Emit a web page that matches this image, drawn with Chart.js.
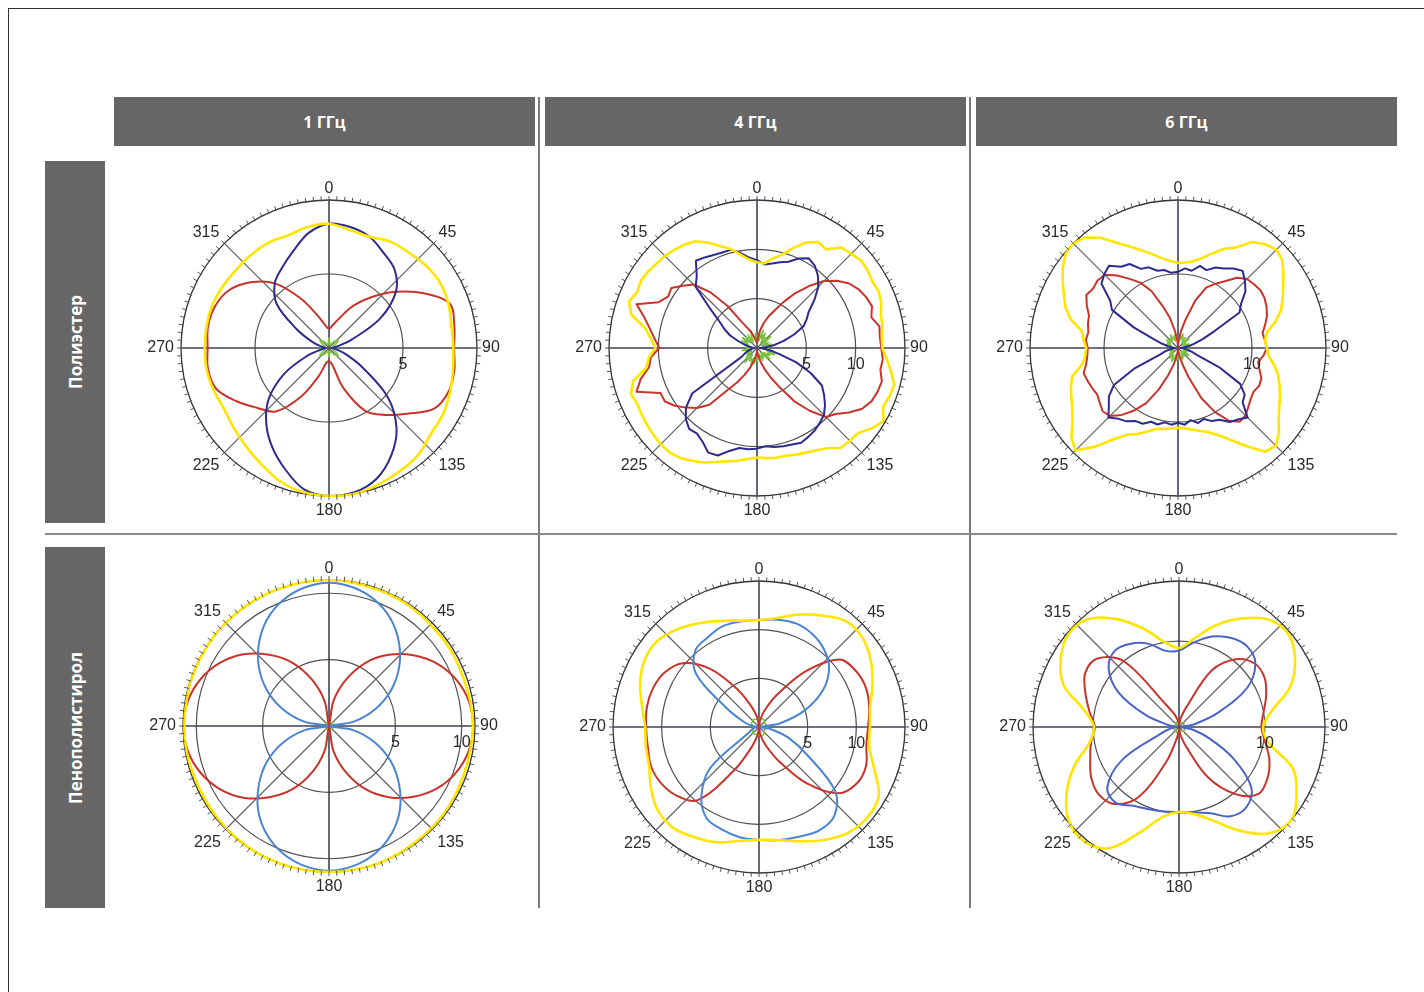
<!DOCTYPE html>
<html lang="ru">
<head>
<meta charset="utf-8">
<title>Диаграммы направленности</title>
<script src="https://cdn.jsdelivr.net/npm/chart.js@4.4.0/dist/chart.umd.min.js"></script>
<style>
  html, body { margin: 0; padding: 0; background: #fff; }
  body { width: 1424px; height: 992px; position: relative; overflow: hidden; font-family: "Open Sans", "DejaVu Sans", sans-serif; }
  .frame { position: absolute; left: 8px; top: 8px; width: 1430px; height: 1000px; border-left: 1px solid #333; border-top: 1px solid #333; }
  .head { position: absolute; top: 97px; height: 49px; width: 421px; background: #666667; color: #fff; font-weight: 700; font-size: 16px;
          display: flex; align-items: center; justify-content: center; }
  .side { position: absolute; left: 45px; width: 60px; background: #666667; }
  .side span { position: absolute; left: 50%; top: 50%; transform: translate(-50%, -50%) rotate(-90deg); white-space: nowrap;
               color: #fff; font-weight: 700; font-size: 17px; }
  .vline { position: absolute; top: 97px; height: 811px; width: 2px; background: #7a7a7a; }
  .hline { position: absolute; left: 45px; width: 1352px; top: 533px; height: 2px; background: #8a8a8a; }
  canvas { position: absolute; }
</style>
</head>
<body>
<div class="frame"></div>
<div class="head" style="left:114px">1 ГГц</div>
<div class="head" style="left:545px">4 ГГц</div>
<div class="head" style="left:976px">6 ГГц</div>
<div class="side" style="top:161px;height:362px"><span>Полиэстер</span></div>
<div class="side" style="top:547px;height:361px"><span>Пенополистирол</span></div>
<div class="vline" style="left:538px"></div>
<div class="vline" style="left:969px"></div>
<div class="hline"></div>

<script>
// углы (градусы)
const deg10 = [0,10,20,30,40,50,60,70,80,90,100,110,120,130,140,150,160,170,
               180,190,200,210,220,230,240,250,260,270,280,290,300,310,320,330,340,350];
const deg5 = [0,5,10,15,20,25,30,35,40,45,50,55,60,65,70,75,80,85,90,95,100,105,110,115,
              120,125,130,135,140,145,150,155,160,165,170,175,180,185,190,195,200,205,210,215,
              220,225,230,235,240,245,250,255,260,265,270,275,280,285,290,295,300,305,310,315,
              320,325,330,335,340,345,350,355];
const angleTicks = [0,45,90,135,180,225,270,315];

// Полиэстер, 1 ГГц
const y11 = [8.4,8.1,8.0,8.3,8.4,8.6,8.7,8.6,8.4,8.4,8.5,8.7,8.9,9.0,9.4,9.6,9.8,10.0,
             10.0,9.9,9.6,9.1,8.7,8.4,8.2,8.3,8.4,8.4,8.4,8.4,8.3,8.2,8.2,8.2,8.1,8.3];
const b11 = [8.4,8.3,8.0,7.4,6.9,5.9,4.0,1.6,0.5,0.2,0.5,1.2,2.6,5.2,7.1,8.4,9.4,9.9,
             10.0,9.7,8.7,7.7,6.6,5.3,3.5,1.6,0.5,0.2,0.5,1.2,2.5,4.6,5.7,6.3,7.0,7.9];
const r11 = [1.3,1.6,2.2,3.3,4.5,5.9,7.4,8.7,8.6,8.45,8.6,8.6,8.2,6.9,5.9,4.9,2.9,1.1,
             0.9,1.0,2.0,3.8,5.6,6.3,7.2,8.1,8.3,8.2,8.3,8.2,7.8,6.9,5.7,3.9,2.4,1.6];
const g11 = [0.7,0.3,0.2,0.3,0.6,0.8,0.5,0.3,0.4,0.6,0.4,0.3,0.5,0.8,0.6,0.3,0.2,0.3,
             0.6,0.3,0.2,0.3,0.6,0.8,0.5,0.3,0.4,0.6,0.4,0.3,0.5,0.8,0.6,0.3,0.2,0.3];

// Полиэстер, 4 ГГц
const y12 = [8.7,8.6,9.2,9.8,10.8,11.8,12.4,12.2,13.3,13.5,13.8,13.7,
             13.5,13.6,13.4,13.0,12.9,12.7,12.7,13.2,13.8,14.4,14.3,14.1,
             14.8,14.2,13.4,13.3,13.2,12.4,12.0,11.7,11.5,11.3,11.3,11.2,
             11.1,11.3,11.6,11.9,12.3,12.8,13.2,13.6,13.8,13.8,13.7,13.6,
             13.5,13.4,13.6,13.0,11.4,11.0,10.3,10.8,11.5,13.2,13.8,13.4,
             13.6,13.5,13.3,13.2,13.0,12.8,12.5,11.8,11.0,10.4,9.6,9.0];
const b12 = [8.9,8.5,8.7,9.0,9.3,10.0,10.5,10.2,9.6,8.8,7.6,6.4,
             5.8,5.2,4.0,2.8,1.8,0.9,0.3,0.6,1.3,2.3,4.2,6.0,
             7.6,8.3,9.0,9.6,9.9,10.2,10.4,10.6,10.4,10.3,10.2,10.0,
             10.2,10.3,10.3,10.8,11.6,11.7,11.0,10.6,10.7,10.2,9.4,8.0,
             1.8,1.4,1.1,0.8,0.6,0.4,0.3,0.5,0.8,1.3,2.0,3.0,
             3.8,4.6,6.2,8.8,9.5,10.8,10.6,10.4,10.3,10.3,9.8,9.2];
const r12 = [0.5,1.0,1.8,2.6,3.4,4.2,5.4,6.8,8.2,9.6,10.6,11.4,
             11.9,12.2,12.4,12.0,12.6,12.5,12.6,12.8,12.7,13.1,13.0,12.8,
             12.3,11.4,10.4,9.9,8.3,6.6,4.6,3.3,2.3,1.5,0.9,0.5,
             0.3,0.6,1.0,1.5,2.2,3.0,4.0,5.2,7.5,8.6,9.4,10.2,
             10.8,10.8,13.0,12.2,11.1,10.8,9.9,10.4,11.0,11.8,13.0,11.0,
             10.4,10.6,9.8,9.1,7.4,5.2,3.0,2.2,1.7,1.2,0.9,0.6];
const g12 = [1.2,0.6,1.6,0.8,1.9,1.1,1.7,0.7,1.4,0.9,1.8,1.0,
             0.5,1.3,0.7,1.5,1.1,0.6,1.2,0.8,1.6,1.0,1.9,1.2,
             1.5,0.8,1.7,1.0,0.6,1.2,0.9,1.4,0.7,1.1,0.5,0.9,
             1.3,0.7,1.6,1.0,1.8,1.2,1.5,0.8,1.9,1.1,1.4,0.7,
             1.2,0.6,1.0,0.8,1.5,1.0,0.6,1.1,0.7,1.3,0.9,1.7,
             1.1,1.8,0.9,1.5,1.0,1.6,0.7,1.3,1.9,1.2,0.8,1.5];

// Полиэстер, 6 ГГц
const y13 = [11.5,11.6,11.9,12.6,13.6,14.8,15.7,17.5,18.3,18.8,18.4,17.4,
             16.4,15.6,14.8,13.6,12.2,11.8,12.0,12.3,13.2,14.0,14.6,15.2,
             15.8,16.6,17.8,18.7,18.3,16.2,14.4,13.0,12.1,11.6,11.2,10.9,
             10.8,10.9,11.1,11.3,12.0,12.8,13.5,15.0,17.4,19.6,18.8,17.4,
             16.5,15.9,15.4,14.8,13.2,12.6,12.4,12.8,13.2,15.0,16.2,17.0,
             18.0,19.0,19.8,20.0,19.5,18.2,16.4,15.1,14.0,13.1,12.3,11.8];
const b13 = [10.3,10.8,10.6,11.5,11.2,12.0,12.4,13.1,13.6,12.8,11.9,10.4,
             9.6,5.5,3.6,2.3,1.5,0.8,0.4,0.8,1.3,1.9,2.7,6.1,
             9.7,11.0,11.4,13.3,12.6,12.2,11.2,10.9,10.2,10.5,9.9,10.4,
             10.1,10.4,10.2,10.7,10.6,11.3,11.4,12.1,12.5,13.3,12.2,11.4,
             10.0,6.4,2.6,1.8,1.2,0.7,0.4,0.8,1.4,2.2,3.5,6.6,
             10.3,11.2,13.5,14.1,14.5,13.4,13.1,11.8,11.6,10.8,10.7,10.2];
const r13 = [0.3,1.0,2.3,4.0,6.8,9.0,10.0,11.0,12.4,13.2,13.4,13.6,
             13.5,13.2,12.8,12.2,11.6,11.8,12.0,11.6,11.0,11.4,12.0,12.1,
             11.8,12.0,12.4,12.9,13.0,12.0,10.0,7.5,4.2,2.2,1.0,0.4,
             0.2,0.5,1.2,2.4,4.0,6.2,8.6,10.3,11.8,13.0,13.3,12.9,
             12.6,12.8,13.0,13.2,12.6,12.3,12.2,12.5,12.3,12.6,12.8,13.6,
             14.3,14.0,14.2,14.0,12.8,11.4,10.2,8.5,6.0,4.2,2.3,1.0];
const g13 = [1.4,0.9,1.8,1.2,2.0,1.5,1.1,1.7,0.8,1.3,1.9,1.0,
             0.6,1.2,1.6,1.0,1.4,0.7,1.1,1.5,0.9,1.7,1.2,0.8,
             1.3,1.8,1.1,0.6,1.0,1.4,0.8,1.6,1.2,1.9,1.4,1.0,
             1.5,1.1,1.7,0.9,1.3,2.0,1.6,1.1,1.8,1.2,0.8,1.4,
             0.7,1.1,0.6,1.0,1.5,0.9,1.3,0.8,1.2,1.7,1.0,1.6,
             1.2,1.9,1.4,1.1,1.7,1.3,2.0,1.5,1.0,1.8,1.2,1.6];

// Пенополистирол, 1 ГГц
const y21 = [11.0,10.95,10.9,10.9,10.85,10.8,10.8,10.75,10.8,10.85,10.8,10.8,10.85,10.9,10.9,10.95,11.0,11.0,
             11.0,11.0,11.0,11.0,10.95,10.9,10.85,10.85,10.9,10.9,10.9,10.95,10.95,11.0,11.0,11.0,11.0,11.0];
const b21 = [10.8,10.6,10.1,9.3,8.2,6.9,5.4,3.7,1.9,0.1,1.9,3.7,5.4,6.9,8.3,9.4,10.2,10.7,
             10.9,10.7,10.2,9.4,8.3,6.9,5.4,3.7,1.9,0.1,1.9,3.7,5.4,6.9,8.2,9.3,10.1,10.6];
const r21 = [0.1,1.9,3.7,5.5,7.0,8.3,9.4,10.2,10.7,10.85,10.7,10.2,9.4,8.3,7.0,5.5,3.7,1.9,
             0.1,1.9,3.7,5.5,7.0,8.4,9.5,10.3,10.8,10.95,10.8,10.3,9.5,8.4,7.0,5.5,3.7,1.9];
const g21 = [0.3,0.25,0.2,0.25,0.3,0.35,0.3,0.25,0.2,0.25,0.3,0.35,0.3,0.25,0.2,0.25,0.3,0.35,
             0.3,0.25,0.2,0.25,0.3,0.35,0.3,0.25,0.2,0.25,0.3,0.35,0.3,0.25,0.2,0.25,0.3,0.35];

// Пенополистирол, 4 ГГц
const y22 = [11.0,11.4,12.3,13.2,14.1,14.0,13.3,12.4,11.6,11.4,11.5,12.6,14.2,14.5,14.2,13.4,12.5,11.8,
             11.6,11.9,12.6,13.1,13.6,13.5,12.8,12.0,11.8,11.7,12.2,13.0,13.6,13.7,13.1,12.3,11.6,11.1];
const b22 = [11.0,11.2,11.3,11.0,10.4,9.4,7.6,5.0,2.2,0.2,1.2,3.2,5.7,10.2,12.0,12.3,12.0,11.8,
             11.6,11.5,11.2,10.8,9.2,6.5,1.3,0.8,0.5,0.2,0.8,1.8,3.8,8.4,10.2,10.6,11.0,11.0];
const r22 = [0.0,0.8,2.0,4.0,7.5,10.8,11.5,11.7,11.5,11.2,11.2,11.7,11.6,10.6,7.5,4.0,2.0,0.8,
             0.0,0.8,2.2,5.2,9.8,11.0,11.6,11.8,11.6,11.6,11.7,11.6,11.2,10.2,7.8,4.5,2.2,0.9];
const g22 = [0.8,0.85,0.9,0.9,0.85,0.75,0.7,0.75,0.85,0.9,0.85,0.7,0.6,0.65,0.8,0.9,0.95,0.9,
             0.85,0.8,0.8,0.85,0.9,0.85,0.7,0.6,0.55,0.6,0.7,0.8,0.85,0.9,0.95,0.9,0.85,0.8];

// Пенополистирол, 6 ГГц
const y23 = [9.2,10.5,12.6,14.6,16.3,16.7,15.6,13.8,11.0,9.8,10.6,14.1,15.8,17.0,16.2,13.9,11.6,10.3,
             9.9,10.6,13.0,16.3,17.3,16.8,15.1,12.9,10.6,9.9,11.2,14.3,15.9,16.8,16.4,14.5,12.2,10.1];
const b23 = [8.9,10.0,11.2,12.0,12.3,11.6,9.2,4.8,1.8,0.3,1.5,3.6,7.3,11.0,12.2,12.0,10.7,10.1,
             9.9,10.0,10.2,10.6,11.5,10.9,7.6,2.2,1.0,0.3,1.2,4.2,8.2,10.7,11.6,11.2,10.3,9.0];
const r23 = [0.3,1.0,2.4,7.6,10.3,11.5,11.5,10.8,10.0,9.6,10.2,11.2,11.9,12.1,10.2,6.8,2.4,0.9,
             0.3,1.2,4.3,9.4,11.7,12.2,11.8,11.0,10.4,9.8,10.6,11.6,12.6,12.4,10.0,3.0,1.6,0.8];
const g23 = [0.6,0.55,0.5,0.55,0.65,0.7,0.65,0.55,0.5,0.55,0.6,0.7,0.75,0.7,0.6,0.5,0.45,0.5,
             0.6,0.65,0.7,0.65,0.55,0.5,0.55,0.65,0.7,0.7,0.6,0.5,0.45,0.5,0.55,0.6,0.65,0.6];

const YELLOW = '#ffe500', RED = '#c8342b', GREEN = '#7cc242';
const NAVY = '#2e2b8e', LIGHTBLUE = '#4a84d2', MIDBLUE = '#4a63c6';

// позиции и масштабы панелей
const panels = [
  { cx: 329, cy: 348, R: 148, max: 10, step: 5,  rings: [5],     labels: deg10, tension: 0.35, blue: NAVY,      sets: [y11, b11, r11, g11] },
  { cx: 757, cy: 348, R: 148, max: 15, step: 5,  rings: [5, 10], labels: deg5,  tension: 0,    blue: NAVY,      sets: [y12, b12, r12, g12] },
  { cx: 1178, cy: 348, R: 148, max: 20, step: 10, rings: [10],   labels: deg5,  tension: 0,    blue: NAVY,      sets: [y13, b13, r13, g13] },
  { cx: 329, cy: 726, R: 146, max: 11, step: 5,  rings: [5, 10], labels: deg10, tension: 0.35, blue: LIGHTBLUE, sets: [y21, b21, r21, g21] },
  { cx: 759, cy: 727, R: 146, max: 15, step: 5,  rings: [5, 10], labels: deg10, tension: 0.35, blue: LIGHTBLUE, sets: [y22, b22, r22, g22] },
  { cx: 1179, cy: 727, R: 146, max: 17, step: 10, rings: [10],   labels: deg10, tension: 0.35, blue: MIDBLUE,   sets: [y23, b23, r23, g23] },
];

const PAD = 45;
const LABEL_FONT = '16px "Liberation Sans", Arial, sans-serif';

// оси, засечки и подписи как у полярного графика
const polarDecor = {
  id: 'polarDecor',
  beforeDatasetsDraw(chart) {
    const s = chart.scales.r, ctx = chart.ctx;
    ctx.save();
    angleTicks.forEach(a => {
      const t = a * Math.PI / 180;
      ctx.beginPath();
      ctx.moveTo(s.xCenter, s.yCenter);
      ctx.lineTo(s.xCenter + s.drawingArea * Math.sin(t), s.yCenter - s.drawingArea * Math.cos(t));
      ctx.strokeStyle = a % 90 === 0 ? '#3e4352' : '#5c5c5c';
      ctx.lineWidth = a % 90 === 0 ? 1.6 : 1.1;
      ctx.stroke();
    });
    ctx.restore();
  },
  afterDraw(chart) {
    const s = chart.scales.r, ctx = chart.ctx, R = s.drawingArea;
    const opts = chart.options.plugins.polarDecor;
    ctx.save();
    // мелкие засечки по окружности
    ctx.strokeStyle = '#555';
    ctx.lineWidth = 1;
    for (let a = 0; a < 360; a += 3) {
      const t = a * Math.PI / 180, sn = Math.sin(t), cs = Math.cos(t);
      ctx.beginPath();
      ctx.moveTo(s.xCenter + (R - 1) * sn, s.yCenter - (R - 1) * cs);
      ctx.lineTo(s.xCenter + (R + 4) * sn, s.yCenter - (R + 4) * cs);
      ctx.stroke();
    }
    // подписи углов
    ctx.font = LABEL_FONT;
    ctx.fillStyle = '#2a2a2a';
    angleTicks.forEach(a => {
      const t = a * Math.PI / 180, sn = Math.sin(t), cs = Math.cos(t);
      const d = R + 7;
      ctx.textAlign = sn > 0.1 ? 'left' : (sn < -0.1 ? 'right' : 'center');
      ctx.textBaseline = cs > 0.1 ? 'bottom' : (cs < -0.1 ? 'top' : 'middle');
      let dy = cs > 0.1 ? 2 : 0;
      if (a === 0) dy = 4;
      ctx.fillText(String(a), s.xCenter + d * sn - (a === 90 ? 2 : 0), s.yCenter - d * cs + dy);
    });
    // подписи колец
    ctx.textAlign = 'center';
    ctx.textBaseline = 'middle';
    opts.rings.forEach(v => {
      const d = s.getDistanceFromCenterForValue(v);
      ctx.fillText(String(v), s.xCenter + d, s.yCenter + 17);
    });
    ctx.restore();
  }
};

panels.forEach(p => {
  const size = 2 * p.R + 2 * PAD;
  const cv = document.createElement('canvas');
  cv.width = size;
  cv.height = size;
  cv.style.left = (p.cx - size / 2) + 'px';
  cv.style.top = (p.cy - size / 2) + 'px';
  document.body.appendChild(cv);

  const colors = [YELLOW, p.blue, RED, GREEN];
  const widths = [2.6, 2, 2, 1.6];
  new Chart(cv, {
    type: 'radar',
    data: {
      labels: p.labels,
      datasets: p.sets.map((d, i) => ({
        data: d,
        borderColor: colors[i],
        borderWidth: widths[i],
        fill: false,
        pointRadius: 0,
        tension: p.tension,
        borderJoinStyle: 'round'
      }))
    },
    options: {
      responsive: false,
      animation: false,
      devicePixelRatio: 1,
      layout: { padding: PAD },
      plugins: {
        legend: { display: false },
        tooltip: { enabled: false },
        polarDecor: { rings: p.rings }
      },
      scales: {
        r: {
          min: 0,
          max: p.max,
          ticks: { display: false, stepSize: p.step },
          pointLabels: { display: false },
          angleLines: { display: false },
          grid: {
            circular: true,
            color: c => c.tick && c.tick.value >= p.max ? '#333' : '#4f4f4f',
            lineWidth: c => c.tick && c.tick.value >= p.max ? 1.3 : 1.2
          }
        }
      }
    },
    plugins: [polarDecor]
  });
});
</script>
</body>
</html>
